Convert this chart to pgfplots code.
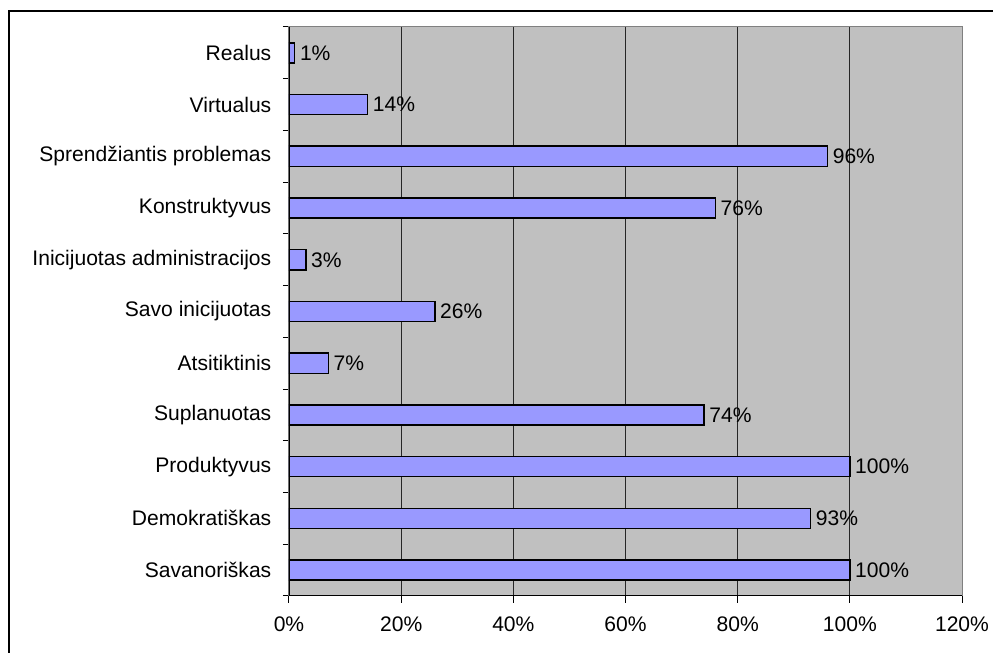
\documentclass[border=0pt]{standalone}
\usepackage{pgfplots}
\pgfplotsset{compat=1.18}
\usepackage{fontspec}
\setmainfont{Liberation Sans}
\definecolor{plotbg}{HTML}{C0C0C0}
\definecolor{barfill}{HTML}{9999FF}
\begin{document}
\begin{tikzpicture}
\useasboundingbox (0,0) rectangle (744.75pt,489.75pt);
\draw[line width=1.5pt] (6.75pt,-20pt) -- (6.75pt,481.5pt) -- (780pt,481.5pt);
\begin{axis}[
  at={(216.75pt,42.75pt)}, anchor=south west,
  scale only axis, width=504.75pt, height=426.75pt,
  xmin=0, xmax=120, ymin=-0.5, ymax=10.5,
  /pgf/number format/assume math mode=true,
  xtick={0,20,...,120},
  xticklabels={0\%,20\%,40\%,60\%,80\%,100\%,120\%},
  ytick={0,...,10},
  yticklabels={Savanoriškas,Demokratiškas,Produktyvus,Suplanuotas,Atsitiktinis,Savo inicijuotas,Inicijuotas administracijos,Konstruktyvus,Sprendžiantis problemas,Virtualus,Realus},
  minor ytick={-0.5,0.5,...,10.5},
  xtick pos=left, ytick pos=left,
  tick align=outside,
  major tick length=5.25pt, minor tick length=4.5pt,
  major y tick style={draw=none},
  minor y tick style={draw=black, line width=0.75pt},
  major x tick style={draw=black, line width=0.75pt},
  xmajorgrids,
  major grid style={draw=black!85, line width=0.75pt},
  axis line style={draw=gray, line width=0.75pt},
  axis background/.style={fill=plotbg},
  tick label style={font=\fontsize{15.8}{18}\selectfont},
  yticklabel style={xshift=-4.5pt},
  xticklabel style={yshift=-7pt},
  nodes near coords={\pgfmathprintnumber[assume math mode=true]{\pgfplotspointmeta}\%},
  every node near coord/.append style={font=\fontsize{15.8}{18}\selectfont, black, inner sep=3.5pt},
  point meta=x,
]
\addplot[xbar, bar width=0.39, fill=barfill, draw=black, line width=1.1pt] coordinates {
 (100,0) (93,1) (100,2) (74,3) (7,4) (26,5) (3,6) (76,7) (96,8) (14,9) (1,10)};
\draw[black, line width=0.9pt] (rel axis cs:0,1) -- (rel axis cs:0,0) -- (rel axis cs:1,0);
\end{axis}
\end{tikzpicture}
\end{document}
